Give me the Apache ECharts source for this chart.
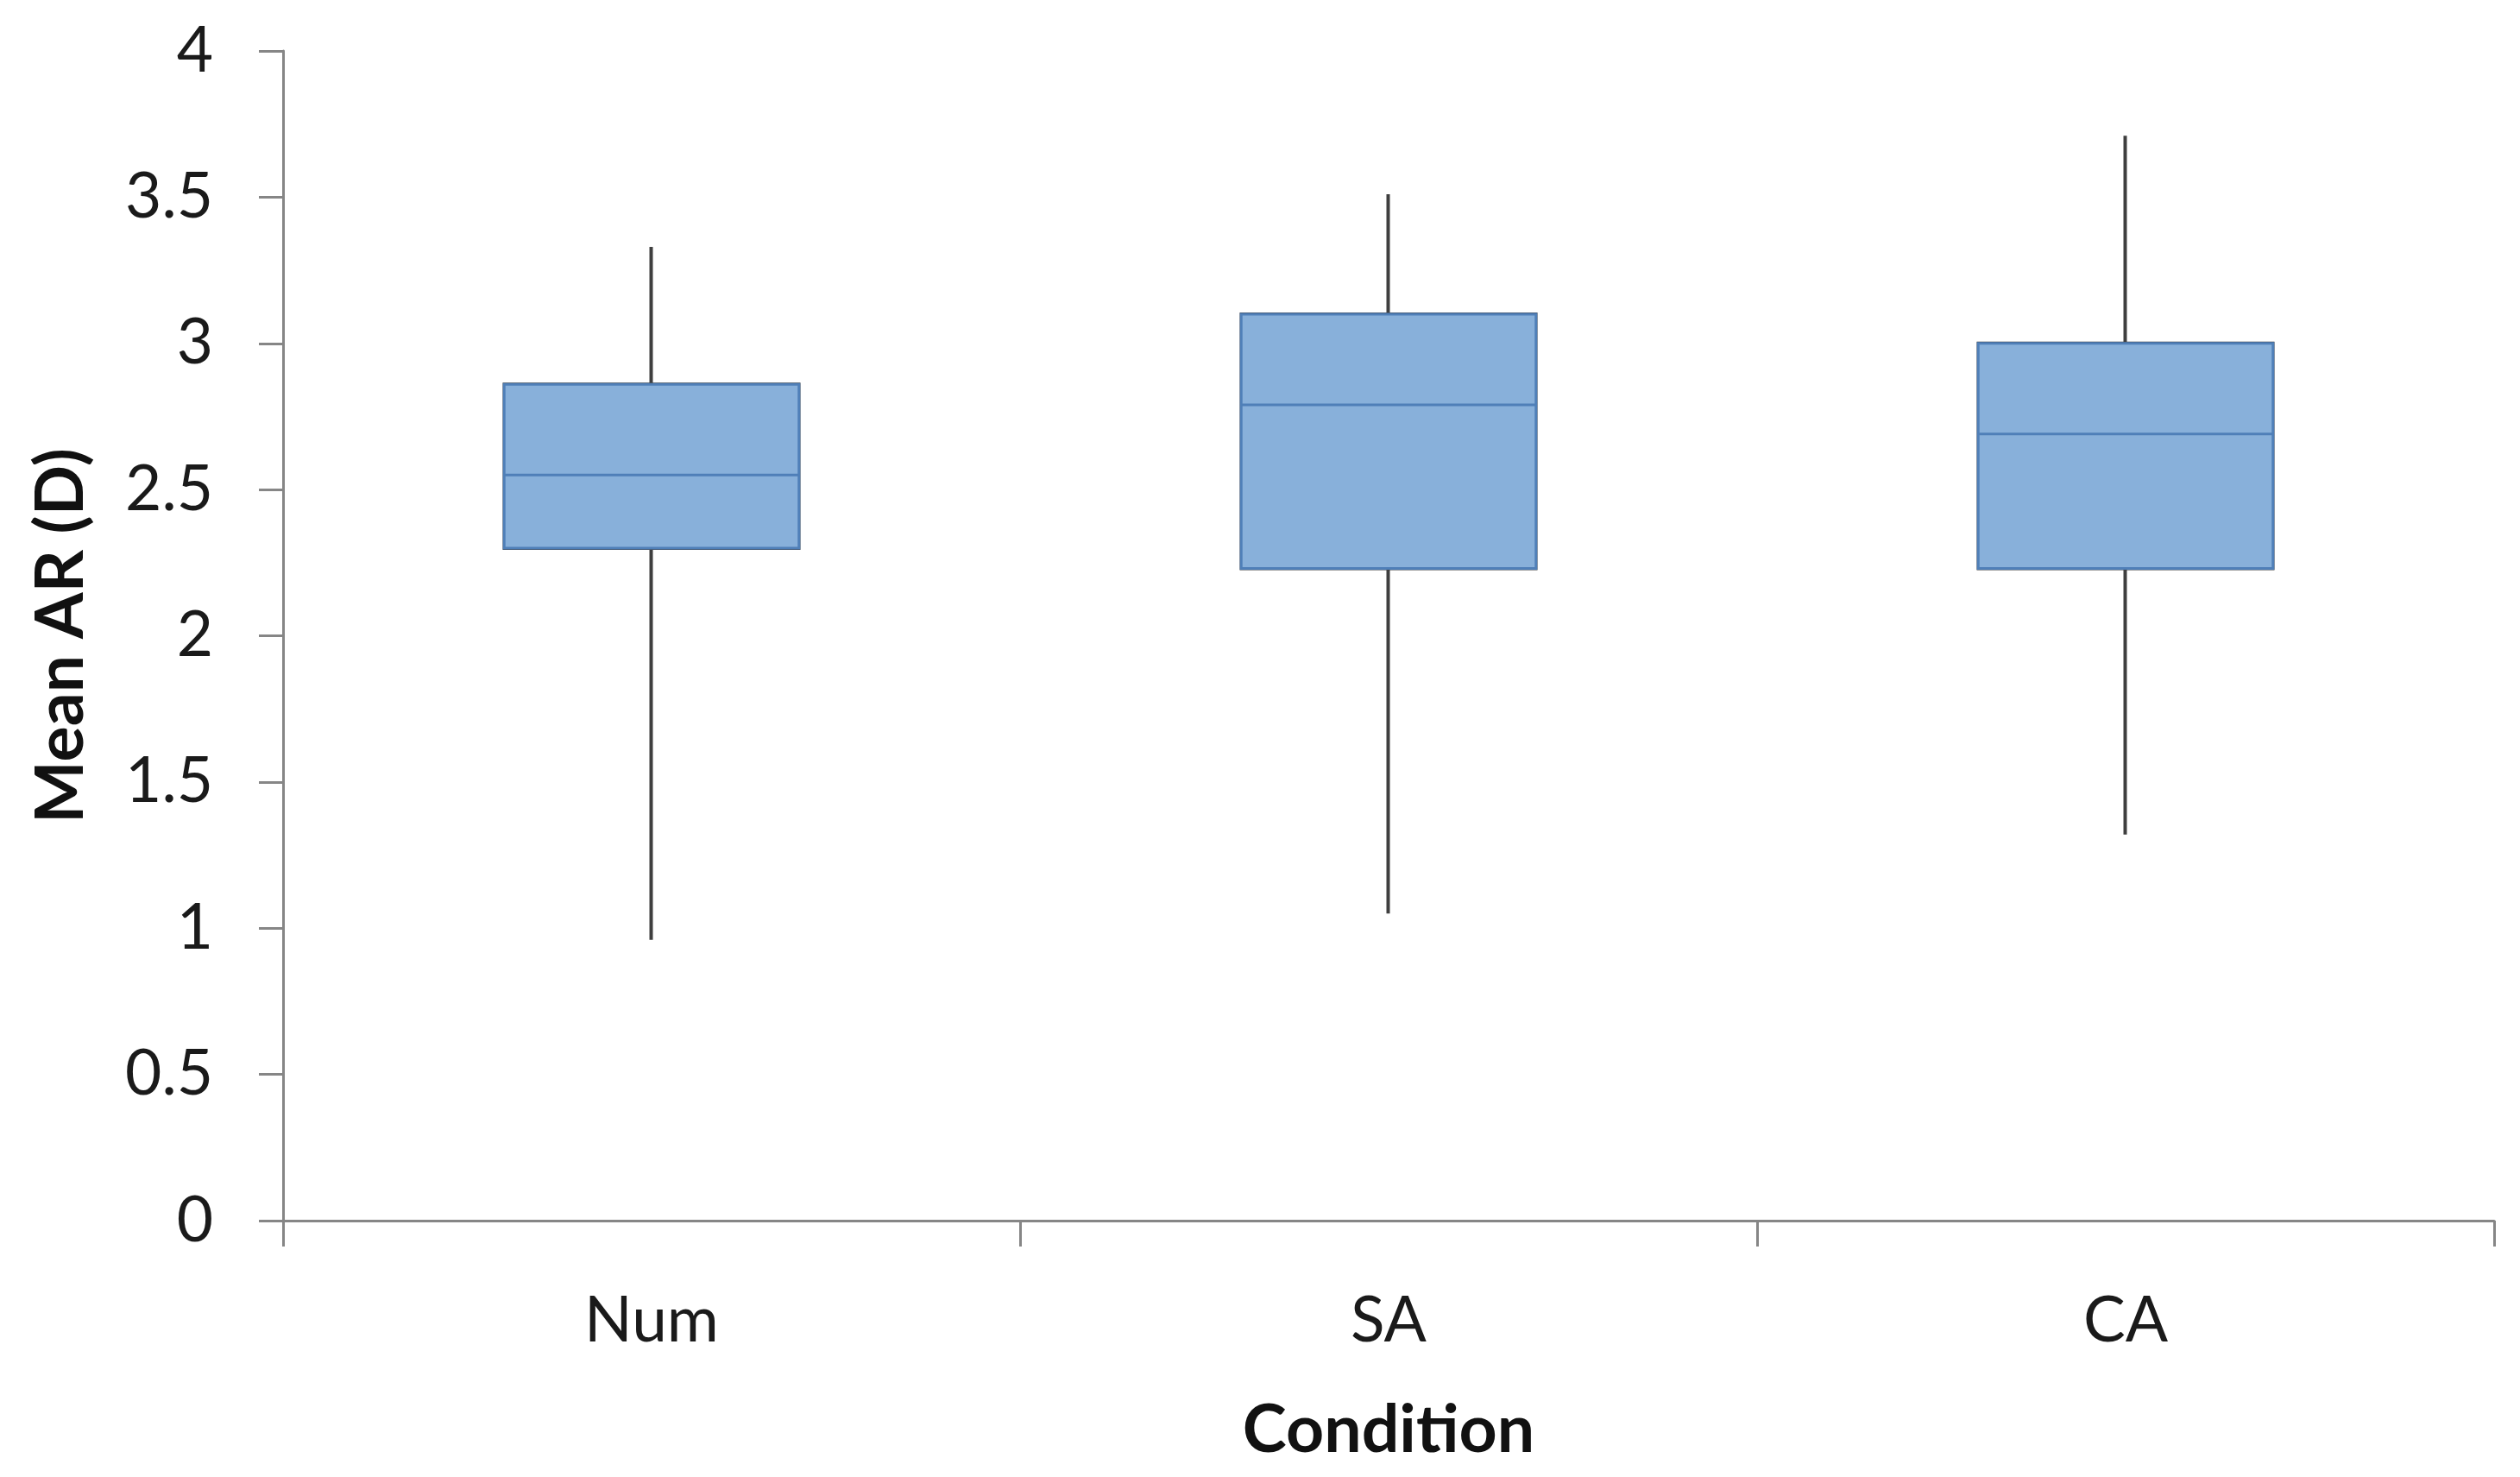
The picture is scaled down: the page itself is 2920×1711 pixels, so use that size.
<!DOCTYPE html>
<html>
<head>
<meta charset="utf-8">
<script src="https://cdn.jsdelivr.net/npm/echarts@6/dist/echarts.min.js"></script>
<style>
html,body{margin:0;padding:0;background:#fff;}
#chart{width:2920px;height:1711px;}
</style>
</head>
<body>
<div id="chart"></div>
<script>
const categories = ['Num', 'SA', 'CA'];
const minVals = [0.96, 1.05, 1.32];
const q1Vals = [2.30, 2.23, 2.23];
const medianVals = [2.55, 2.79, 2.69];
const q3Vals = [2.86, 3.10, 3.00];
const maxVals = [3.33, 3.51, 3.71];
const yTicks = { min: 0, max: 4, interval: 0.5 };
const xTitle = 'Condition';
const yTitle = 'Mean AR (D)';

const boxData = categories.map((c, i) => [minVals[i], q1Vals[i], medianVals[i], q3Vals[i], maxVals[i]]);
const whiskerData = categories.map((c, i) => [q1Vals[i], q3Vals[i], minVals[i], maxVals[i]]);

const FONT = 'Lato';
const chart = echarts.init(document.getElementById('chart'));
chart.setOption({
  animation: false,
  backgroundColor: '#ffffff',
  grid: { left: 328, right: 30, top: 59, bottom: 297, containLabel: false },
  xAxis: {
    type: 'category',
    data: categories,
    boundaryGap: true,
    name: xTitle,
    nameLocation: 'middle',
    nameGap: 205,
    nameTextStyle: { fontFamily: FONT, fontWeight: 'bold', fontSize: 77, color: '#111' },
    axisLine: { show: true, lineStyle: { color: '#868686', width: 3 } },
    axisTick: { show: true, length: 30, lineStyle: { color: '#868686', width: 3 } },
    axisLabel: { fontFamily: FONT, fontSize: 73, color: '#1a1a1a', margin: 80 },
    splitLine: { show: false }
  },
  yAxis: {
    type: 'value',
    min: yTicks.min,
    max: yTicks.max,
    interval: yTicks.interval,
    name: yTitle,
    nameLocation: 'middle',
    nameGap: 218,
    nameRotate: 90,
    nameTextStyle: { fontFamily: FONT, fontWeight: 'bold', fontSize: 77, color: '#111' },
    axisLine: { show: true, lineStyle: { color: '#868686', width: 3 } },
    axisTick: { show: true, length: 28, lineStyle: { color: '#868686', width: 3 } },
    axisLabel: { fontFamily: FONT, fontSize: 73, color: '#1a1a1a', margin: 81 },
    splitLine: { show: false }
  },
  series: [
    {
      type: 'candlestick',
      data: whiskerData,
      barWidth: '40%',
      itemStyle: {
        color: '#88b0da', color0: '#88b0da',
        borderColor: '#3f3f3f', borderColor0: '#3f3f3f',
        borderWidth: 4
      },
      z: 2
    },
    {
      type: 'boxplot',
      data: boxData.map(d => [d[1], d[1], d[2], d[3], d[3]]),
      boxWidth: ['40%', '40%'],
      itemStyle: { color: '#88b0da', borderColor: '#4f7fb8', borderWidth: 3 },
      z: 3
    }
  ]
});
</script>
</body>
</html>
